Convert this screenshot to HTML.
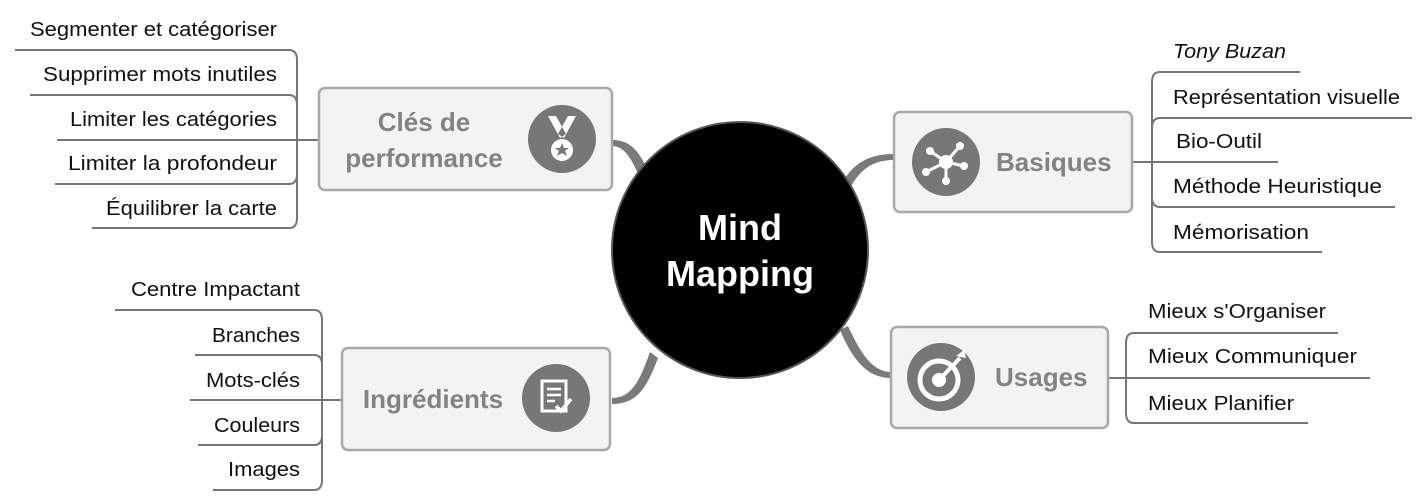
<!DOCTYPE html>
<html><head><meta charset="utf-8"><style>
html,body{margin:0;padding:0;background:#fff;}
svg{display:block;}
text{font-family:"Liberation Sans",sans-serif;}
.leaf{font-size:20px;fill:#111;}
.ln{fill:none;stroke:#777;stroke-width:2;}
.box{fill:#f3f3f3;stroke:#a8a8a8;stroke-width:2.5;}
.bt{font-size:26px;font-weight:bold;fill:#838383;}
.conn{fill:#7a7a7a;}
</style></head><body>
<svg width="1426" height="501" viewBox="0 0 1426 501" xmlns="http://www.w3.org/2000/svg">
<path class="conn" d="M612,140 C630,140 638,150 648,170 L640,178 C632,160 625,146 612,146 Z"/>
<path class="conn" d="M612,398 C632,398 640,380 650,352 L658,358 C646,390 636,404 612,404 Z"/>
<path class="conn" d="M894,160 C870,160 858,172 848,192 L840,186 C852,165 866,154 894,154 Z"/>
<path class="conn" d="M891,378 C866,378 852,358 840,330 L848,326 C860,352 872,372 891,372 Z"/>
<circle cx="740" cy="250" r="128" fill="#000" stroke="#555" stroke-width="2"/>
<text x="740" y="240" text-anchor="middle" font-size="36" font-weight="bold" fill="#fff">Mind</text>
<text x="740" y="286" text-anchor="middle" font-size="36" font-weight="bold" fill="#fff">Mapping</text>

<path class="ln" d="M15,50 H289 Q297,50 297,60 V218 Q297,228 289,228 H92"/>
<path class="ln" d="M30,95 H289 Q297,95 297,105"/>
<path class="ln" d="M55,184 H289 Q297,184 297,174"/>
<path class="ln" d="M57,140 H319"/>
<text class="leaf" x="30" y="36" textLength="247" lengthAdjust="spacingAndGlyphs">Segmenter et catégoriser</text>
<text class="leaf" x="43" y="81" textLength="234" lengthAdjust="spacingAndGlyphs">Supprimer mots inutiles</text>
<text class="leaf" x="70" y="126" textLength="207" lengthAdjust="spacingAndGlyphs">Limiter les catégories</text>
<text class="leaf" x="68" y="170" textLength="209" lengthAdjust="spacingAndGlyphs">Limiter la profondeur</text>
<text class="leaf" x="106" y="215" textLength="171" lengthAdjust="spacingAndGlyphs">Équilibrer la carte</text>
<rect class="box" x="319" y="88" width="293" height="102" rx="6"/>
<text class="bt" x="424" y="131" text-anchor="middle">Clés de</text>
<text class="bt" x="424" y="167" text-anchor="middle">performance</text>
<circle cx="562" cy="139" r="34" fill="#777"/>
<path d="M548,116 l8,0 l10,18 l-6,4 Z M576,116 l-8,0 l-10,18 l6,4 Z" fill="#fff"/>
<circle cx="562" cy="150" r="11" fill="#fff"/>
<path d="M562,143 l2,5 5,0 -4,3 2,5 -5,-3 -5,3 2,-5 -4,-3 5,0 Z" fill="#777"/>

<path class="ln" d="M115,310 H314 Q322,310 322,320 V480 Q322,490 314,490 H213"/>
<path class="ln" d="M195,355 H314 Q322,355 322,365"/>
<path class="ln" d="M198,445 H314 Q322,445 322,435"/>
<path class="ln" d="M190,400 H342"/>
<text class="leaf" x="131" y="296" textLength="169" lengthAdjust="spacingAndGlyphs">Centre Impactant</text>
<text class="leaf" x="212" y="342" textLength="88" lengthAdjust="spacingAndGlyphs">Branches</text>
<text class="leaf" x="206" y="387" textLength="94" lengthAdjust="spacingAndGlyphs">Mots-clés</text>
<text class="leaf" x="214" y="432" textLength="86" lengthAdjust="spacingAndGlyphs">Couleurs</text>
<text class="leaf" x="228" y="476" textLength="72" lengthAdjust="spacingAndGlyphs">Images</text>
<rect class="box" x="342" y="348" width="268" height="102" rx="6"/>
<text class="bt" x="433" y="408" text-anchor="middle">Ingrédients</text>
<circle cx="556" cy="398" r="34" fill="#777"/>
<rect x="542" y="381" width="24" height="30" fill="none" stroke="#fff" stroke-width="3"/>
<path d="M547,389 h14 M547,395 h14 M547,401 h8" stroke="#fff" stroke-width="2.5"/>
<path d="M556,406 l5,5 l10,-12" fill="none" stroke="#fff" stroke-width="3.5"/>

<path class="ln" d="M1300,72 H1160 Q1152,72 1152,82 V242 Q1152,252 1160,252 H1322"/>
<path class="ln" d="M1412,118 H1160 Q1152,118 1152,128"/>
<path class="ln" d="M1395,207 H1160 Q1152,207 1152,197"/>
<path class="ln" d="M1278,162 H1132"/>
<text class="leaf" x="1173" y="58" font-style="italic" textLength="113" lengthAdjust="spacingAndGlyphs">Tony Buzan</text>
<text class="leaf" x="1173" y="104" textLength="227" lengthAdjust="spacingAndGlyphs">Représentation visuelle</text>
<text class="leaf" x="1176" y="148" textLength="86" lengthAdjust="spacingAndGlyphs">Bio-Outil</text>
<text class="leaf" x="1173" y="193" textLength="209" lengthAdjust="spacingAndGlyphs">Méthode Heuristique</text>
<text class="leaf" x="1173" y="239" textLength="136" lengthAdjust="spacingAndGlyphs">Mémorisation</text>
<rect class="box" x="894" y="112" width="238" height="100" rx="6"/>
<circle cx="946" cy="162" r="34" fill="#777"/>
<g stroke="#fff" stroke-width="3"><path d="M946,162 L960,146 M946,162 L930,151 M946,162 L926,172 M946,162 L964,166 M946,162 L946,181"/></g>
<g fill="#fff"><circle cx="946" cy="162" r="7"/><circle cx="960" cy="146" r="4"/><circle cx="930" cy="151" r="4"/><circle cx="926" cy="172" r="4"/><circle cx="964" cy="166" r="4"/><circle cx="946" cy="181" r="4"/></g>
<text class="bt" x="996" y="171">Basiques</text>

<path class="ln" d="M1338,333 H1134 Q1126,333 1126,343 V413 Q1126,423 1134,423 H1308"/>
<path class="ln" d="M1370,378 H1108"/>
<text class="leaf" x="1148" y="318" textLength="178" lengthAdjust="spacingAndGlyphs">Mieux s'Organiser</text>
<text class="leaf" x="1148" y="363" textLength="209" lengthAdjust="spacingAndGlyphs">Mieux Communiquer</text>
<text class="leaf" x="1148" y="410" textLength="146" lengthAdjust="spacingAndGlyphs">Mieux Planifier</text>
<rect class="box" x="891" y="327" width="217" height="101" rx="6"/>
<circle cx="941" cy="377" r="34" fill="#777"/>
<circle cx="939" cy="380" r="19" fill="none" stroke="#fff" stroke-width="5"/>
<circle cx="939" cy="380" r="7" fill="#fff"/>
<path d="M939,380 L960,358" stroke="#fff" stroke-width="4"/>
<path d="M956,356 l8,-6 l2,8 Z" fill="#fff"/>
<text class="bt" x="995" y="386">Usages</text>
</svg>
</body></html>
